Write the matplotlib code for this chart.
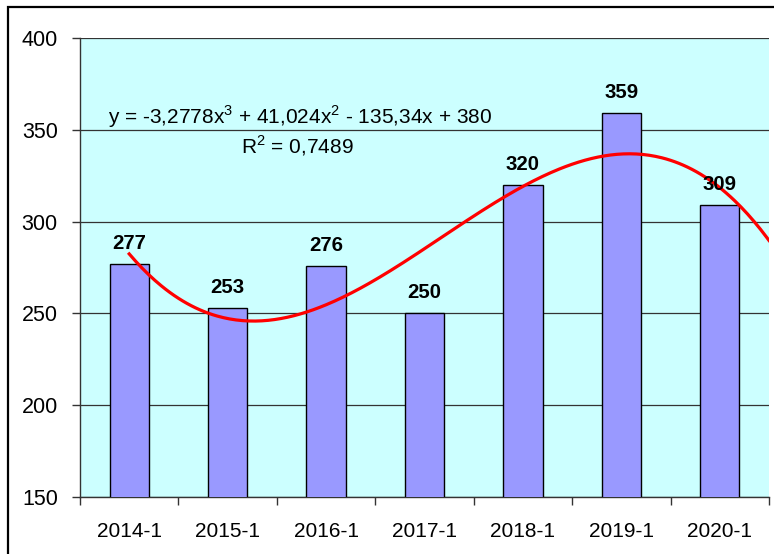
import numpy as np
import matplotlib
matplotlib.use("Agg")
import matplotlib.pyplot as plt
from matplotlib.patches import Rectangle

categories = ["2014-1", "2015-1", "2016-1", "2017-1", "2018-1", "2019-1", "2020-1"]
values = [277, 253, 276, 250, 320, 359, 309]
equation = "y = -3,2778x$^3$ + 41,024x$^2$ - 135,34x + 380"
r2_text = "R$^2$ = 0,7489"

plt.rcParams['font.family'] = ['Liberation Sans', 'DejaVu Sans']
plt.rcParams['mathtext.fontset'] = 'custom'
plt.rcParams['mathtext.rm'] = 'Liberation Sans'

W, H = 774, 554
fig = plt.figure(figsize=(W/100, H/100), dpi=100)
ax = fig.add_axes([80/W, 1-497/H, (769-80)/W, (497-38)/H])

# outer frame
fig.patches.append(Rectangle((8/W, -0.1), 1.2, 1-7/H+0.1, transform=fig.transFigure,
                             fill=False, edgecolor='black', linewidth=1.6))

ax.set_facecolor('#CCFFFF')
x = np.arange(1, len(values)+1)
ax.bar(x, values, width=0.4, color='#9999FF', edgecolor='black', linewidth=1.0, zorder=3)

for xi, v in zip(x, values):
    ax.text(xi, v + 6, str(v), ha='center', va='bottom', fontsize=14.7,
            fontweight='bold', zorder=5)

# cubic trendline (forward forecast 0.5)
coef = np.polyfit(x, values, 3)
xs = np.linspace(1, 7.5, 300)
ax.plot(xs, np.polyval(coef, xs), color='#FF0000', linewidth=2.3, zorder=4)

ax.text(108/W, 1-117/H, equation, transform=fig.transFigure, fontsize=15,
        ha='left', va='center', zorder=6)
ax.text(297/W, 1-146/H, r2_text, transform=fig.transFigure, fontsize=15,
        ha='center', va='center', zorder=6)

ax.set_xlim(0.5, 7.5)
ax.set_ylim(150, 400)
ax.set_yticks([150, 200, 250, 300, 350, 400])
ax.yaxis.grid(True, color='#333333', linewidth=0.9, zorder=1)
ax.set_axisbelow(True)

ax.set_xticks(np.arange(0.5, 8.0, 1.0))
ax.set_xticklabels([])
ax.set_xticks(x, minor=True)
ax.set_xticklabels(categories, minor=True)
ax.tick_params(axis='x', which='minor', length=0, pad=18, labelsize=15)
ax.tick_params(axis='x', which='major', length=6, width=1, color='#333333')
ax.tick_params(axis='y', length=6, width=1, color='#333333', labelsize=15.5, pad=10)

for s in ['top', 'right']:
    ax.spines[s].set_visible(False)
for s in ['left', 'bottom']:
    ax.spines[s].set_color('#333333')
    ax.spines[s].set_linewidth(1.0)

fig.savefig('out.png', dpi=100)
